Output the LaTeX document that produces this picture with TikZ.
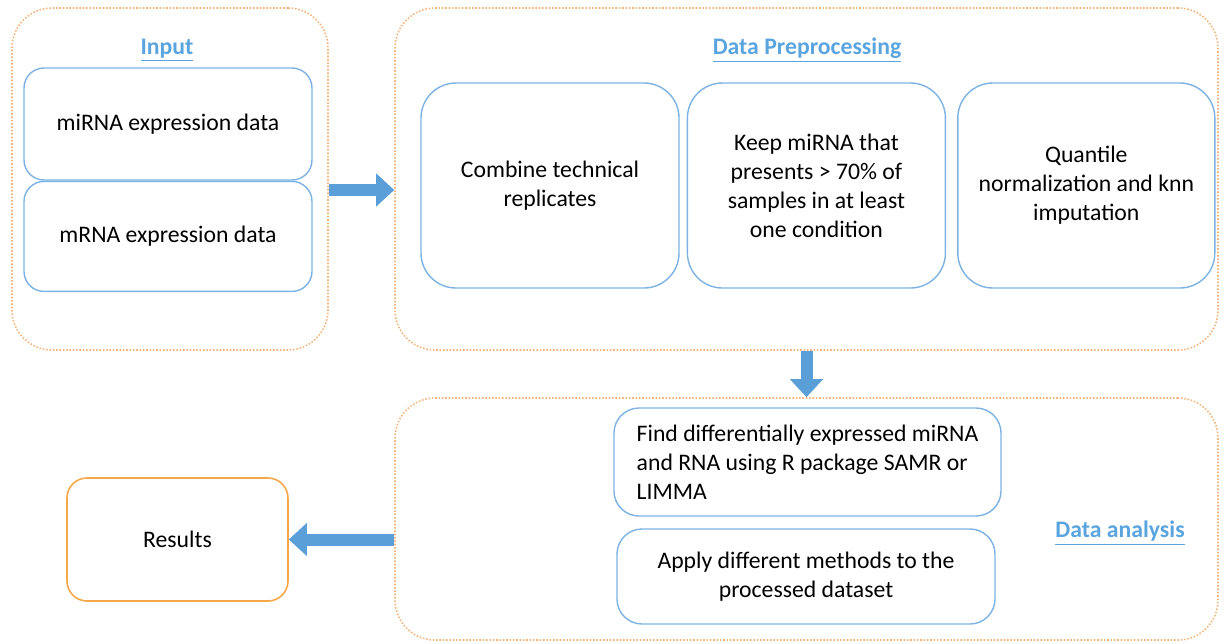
\documentclass[tikz,border=0pt]{standalone}
\usepackage{fontspec}
\setmainfont{Carlito}
\usepackage{xcolor}
\usetikzlibrary{arrows.meta, positioning}
\definecolor{frameorange}{HTML}{F5B47A}
\definecolor{resorange}{HTML}{F5A84A}
\definecolor{boxblue}{HTML}{7DB3E3}
\definecolor{titleblue}{HTML}{5AA5DF}
\definecolor{arrowblue}{HTML}{5A9FD8}

\begin{document}
\begin{tikzpicture}[
					% Picture Styling
					font=\fontsize{13.5}{16.5}\selectfont,
					frame/.style={draw=frameorange, densely dotted, line width=0.9pt, rounded corners=0.8cm},
					step box/.style={draw=boxblue, line width=0.8pt, rounded corners=0.5cm, align=center},
					title/.style={font=\fontsize{13.5}{16}\selectfont\bfseries, text=titleblue},
					result/.style={draw=resorange, line width=0.9pt, rounded corners=0.4cm, align=center},
					flow/.style={draw=arrowblue, line width=0.24cm, -{Triangle[length=0.36cm, width=0.64cm]}}
				]
				\useasboundingbox (0,0) rectangle (24.48,-12.86);
				% Marcos externos
				\node[frame, minimum width=6.32cm, minimum height=6.84cm] (input) at (3.4,-3.58) {};
				\node[frame, minimum width=16.46cm, minimum height=6.84cm] (prep) at (16.13,-3.58) {};
				\node[frame, minimum width=16.46cm, minimum height=4.84cm] (analysis) at (16.13,-10.38) {};
				% Titulos
				\node[title] (input_title) at (3.34,-1.0) {\underline{Input}};
				\node[title] (prep_title) at (16.14,-1.0) {\underline{Data Preprocessing}};
				\node[title] (analysis_title) at (22.4,-10.66) {\underline{Data analysis}};
				% Entradas
				\node[step box, rounded corners=0.4cm, minimum width=5.76cm, minimum height=2.24cm] (mirna) at (3.36,-2.48) {miRNA expression data};
				\node[step box, rounded corners=0.4cm, minimum width=5.76cm, minimum height=2.2cm, below=0cm of mirna] (mrna) {mRNA expression data};
				% Preprocesamiento
				\node[step box, rounded corners=0.7cm, minimum width=5.16cm, minimum height=4.1cm] (combine) at (11.0,-3.71) {Combine technical\\replicates};
				\node[step box, rounded corners=0.7cm, minimum width=5.16cm, minimum height=4.1cm, right=0.14cm of combine] (keep) {Keep miRNA that\\presents > 70\% of\\samples in at least\\one condition};
				\node[step box, rounded corners=0.7cm, minimum width=5.14cm, minimum height=4.1cm, right=0.22cm of keep] (quantile) {Quantile\\normalization and knn\\imputation};
				% Analisis
				\node[step box, align=left, minimum width=7.74cm, minimum height=2.16cm] (find) at (16.15,-9.24) {Find differentially expressed miRNA\\and RNA using R package SAMR or\\LIMMA};
				\node[step box, minimum width=7.56cm, minimum height=1.9cm] (apply) at (16.12,-11.53) {Apply different methods to the\\processed dataset};
				\node[result, minimum width=4.42cm, minimum height=2.46cm] (results) at (3.55,-10.79) {Results};
				% Flechas
				\draw[flow] ([yshift=-0.22cm]input.east) -- ([yshift=-0.22cm]prep.west);
				\draw[flow] (prep.south) -- (analysis.north);
				\draw[flow] (analysis.west |- results.east) -- (results.east);
			\end{tikzpicture}
\end{document}
